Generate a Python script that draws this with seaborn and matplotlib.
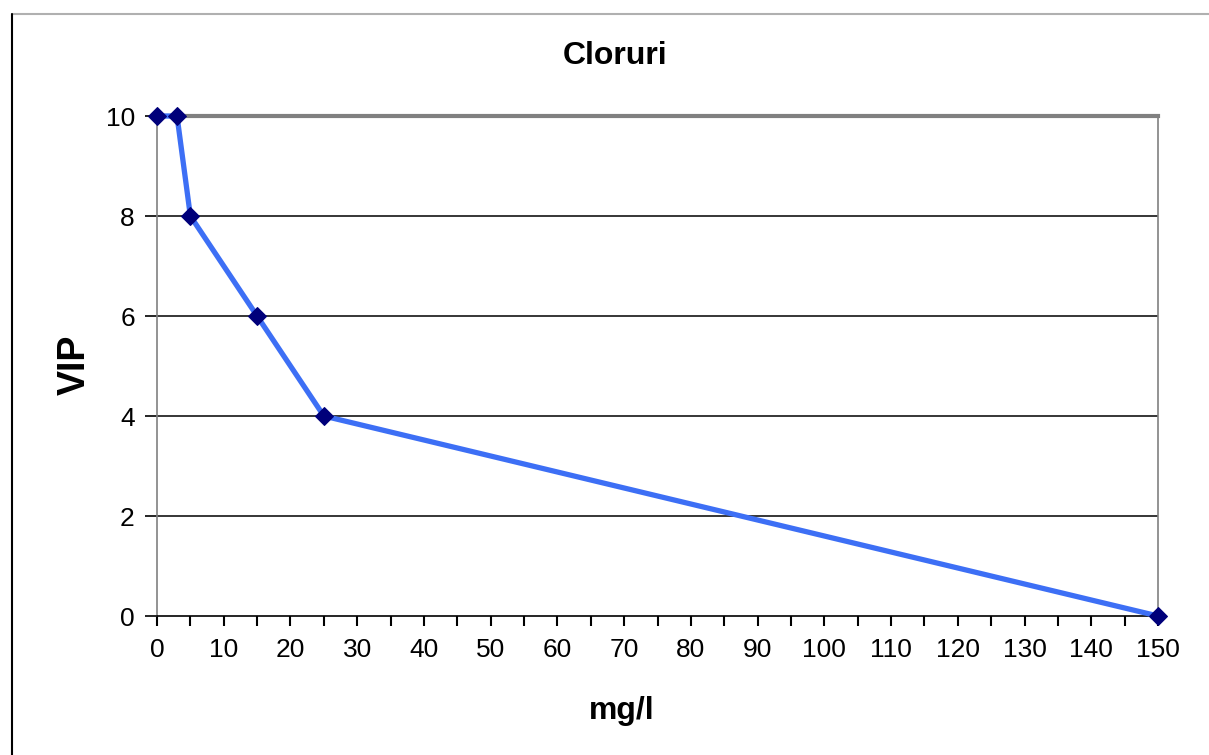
import numpy as np
import pandas as pd
import seaborn as sns
import matplotlib.pyplot as plt
from matplotlib.lines import Line2D

# date
conc = [0, 3, 5, 15, 25, 150]
vip = [10, 10, 8, 6, 4, 0]
x_ticks = list(range(0, 151, 10))
y_ticks = [0, 2, 4, 6, 8, 10]

df = pd.DataFrame({'mg/l': conc, 'VIP': vip})

sns.set_style('white')
plt.rcParams['font.family'] = ['Liberation Sans', 'DejaVu Sans']
plt.rcParams['text.color'] = 'black'
plt.rcParams['axes.labelcolor'] = 'black'
plt.rcParams['xtick.color'] = 'black'
plt.rcParams['ytick.color'] = 'black'

fig = plt.figure(figsize=(12.09, 7.55), dpi=100)
ax = fig.add_axes([157 / 1209, 1 - 616 / 755, 1001 / 1209, 500 / 755])

# chenarul graficului
fig.add_artist(Line2D([12 / 1209, 1.0], [1 - 14 / 755, 1 - 14 / 755], color='#b0b0b0', lw=1.5))
fig.add_artist(Line2D([12 / 1209, 12 / 1209], [1 - 14 / 755, 0.0], color='black', lw=1.5))

for y in y_ticks[1:-1]:
    ax.axhline(y, color='black', lw=1.1, zorder=1)

sns.lineplot(data=df, x='mg/l', y='VIP', ax=ax, color='#3d6ff5', lw=3.8,
             marker='D', markersize=9, markerfacecolor='#00007a',
             markeredgecolor='#00007a', zorder=3, clip_on=False)

ax.set_xlim(0, 150)
ax.set_ylim(0, 10)
ax.set_xticks(x_ticks)
ax.set_xticks(range(0, 151, 5), minor=True)
ax.set_yticks(y_ticks)

for side in ['left', 'right']:
    ax.spines[side].set_color('#808080')
    ax.spines[side].set_linewidth(1.2)
ax.spines['top'].set_color('#808080')
ax.spines['top'].set_linewidth(3)
ax.spines['bottom'].set_color('black')
ax.spines['bottom'].set_linewidth(1.2)

ax.tick_params(axis='x', which='both', direction='out', length=7, width=1.5,
               color='black', bottom=True, labelsize=19, pad=9)
ax.tick_params(axis='y', which='major', direction='out', length=9, width=1.2,
               color='black', left=True, labelsize=19, pad=7)

fig.text(615 / 1209, 1 - 56 / 755, 'Cloruri', fontsize=23, fontweight='bold',
         ha='center', va='center')
ax.set_xlabel('mg/l', fontsize=23, fontweight='bold')
ax.set_ylabel('VIP', fontsize=27, fontweight='bold')
ax.xaxis.set_label_coords(0.4645, -0.19)
ax.xaxis.label.set_verticalalignment('center')
ax.yaxis.set_label_coords(-0.082, 0.502)
ax.yaxis.label.set_verticalalignment('center')

fig.savefig('out.png', dpi=100, facecolor='white')
